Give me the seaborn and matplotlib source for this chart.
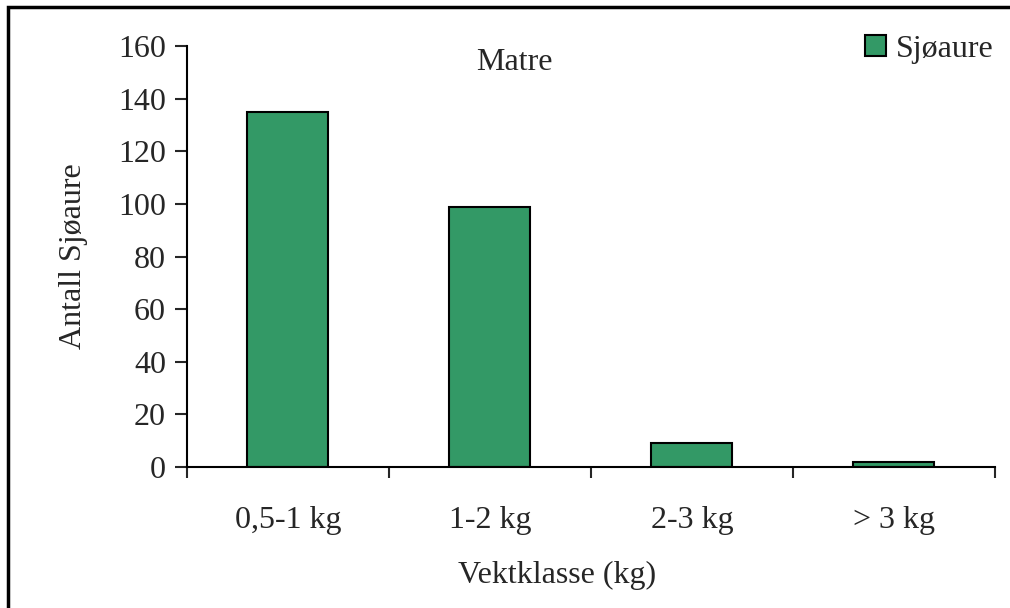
import pandas as pd
import seaborn as sns
import matplotlib.pyplot as plt
from matplotlib.patches import Rectangle

# Sjøaure per vektklasse, Matre
categories = ["0,5-1 kg", "1-2 kg", "2-3 kg", "> 3 kg"]
antall = [135, 99, 9, 2]

df = pd.DataFrame({"Vektklasse": categories, "Antall": antall})

sns.set_style("white")
plt.rcParams['font.family'] = ['Liberation Serif', 'DejaVu Serif']
fs = 23

fig = plt.figure(figsize=(10.1, 6.08), dpi=100)
ax = fig.add_axes([0.185, 0.232, 0.800, 0.692])

sns.barplot(data=df, x="Vektklasse", y="Antall", color="#339966",
            edgecolor="black", linewidth=1.5, width=0.4, saturation=1,
            label="Sjøaure", ax=ax)

ax.set_ylim(0, 160)
ax.set_yticks(range(0, 161, 20))
ax.set_xlim(-0.5, 3.5)
ax.set_xticks([-0.5, 0.5, 1.5, 2.5, 3.5], minor=True)
ax.tick_params(axis="x", which="major", length=0, pad=28, labelsize=fs)
ax.tick_params(axis="x", which="minor", length=8, width=1.5, direction="out",
               bottom=True)
ax.tick_params(axis="y", length=9, width=1.5, direction="out", left=True,
               pad=6, labelsize=fs)

for side in ["top", "right"]:
    ax.spines[side].set_visible(False)
for side in ["left", "bottom"]:
    ax.spines[side].set_linewidth(1.5)
    ax.spines[side].set_color("black")

ax.set_xlabel("Vektklasse (kg)", fontsize=fs)
ax.xaxis.set_label_coords(0.458, -0.224)
ax.set_ylabel("Antall Sjøaure", fontsize=fs, labelpad=22)
ax.text(0.405, 0.995, "Matre", transform=ax.transAxes, ha="center", va="top",
        fontsize=fs)

leg = ax.legend(loc="upper right", bbox_to_anchor=(1.034, 1.096), frameon=False,
                fontsize=fs, handlelength=0.65, handleheight=0.65,
                handletextpad=0.3)

fig.patches.append(Rectangle((8 / 1010, -0.1), 1.2, 1.1 - 7 / 608,
                             transform=fig.transFigure, fill=False,
                             edgecolor="black", linewidth=2.5))

fig.savefig("out.png", dpi=100)
